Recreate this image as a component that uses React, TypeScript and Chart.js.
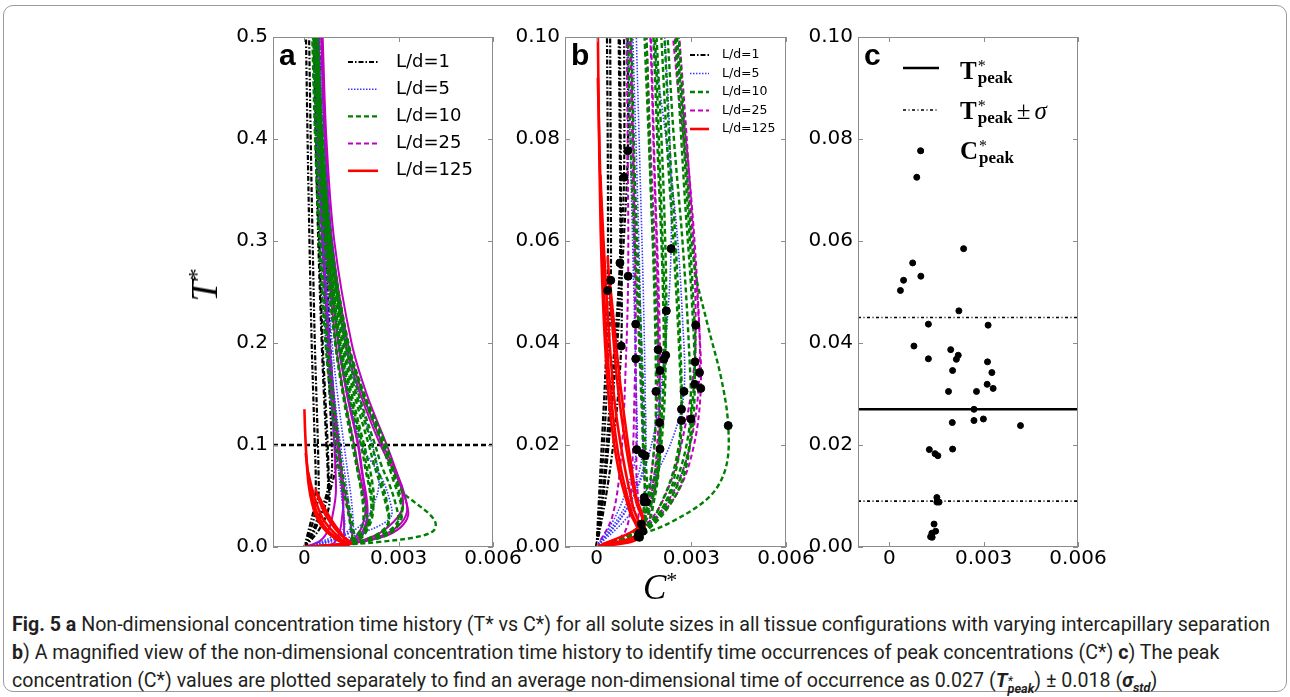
import React, { useEffect, useLayoutEffect, useRef } from 'react';
import { Chart, registerables } from 'chart.js';
Chart.register(...registerables);

// ---------------- data ----------------
const C_UNIT = 1e-3; // C* values in the curve / peak arrays are given in units of 1e-3
const X_MIN = -0.001;
const X_MAX = 0.006;
const X_TICKS = [0, 0.003, 0.006];
const X_TICK_LABELS = ['0', '0.003', '0.006'];
const Y_TICKS_A = [0, 0.1, 0.2, 0.3, 0.4, 0.5];
const Y_TICK_LABELS_A = ['0.0', '0.1', '0.2', '0.3', '0.4', '0.5'];
const Y_TICKS_BC = [0, 0.02, 0.04, 0.06, 0.08, 0.1];
const Y_TICK_LABELS_BC = ['0.00', '0.02', '0.04', '0.06', '0.08', '0.10'];
const LD_LABELS = ['L/d=1', 'L/d=5', 'L/d=10', 'L/d=25', 'L/d=125'];
const T_REF_LINE = 0.1;
const T_PEAK_MEAN = 0.027;
const T_PEAK_STD = 0.018;

// each curve: [C* (x1e-3), T*]
const CURVES_LD1 = [
  [[0, 0], [0.08, 0.01], [0.18, 0.022], [0.29, 0.036], [0.35, 0.0503], [0.36, 0.07], [0.33, 0.1], [0.28, 0.15], [0.23, 0.2], [0.16, 0.3], [0.1, 0.4], [0.05, 0.5]],
  [[0, 0], [0.12, 0.01], [0.25, 0.022], [0.37, 0.037], [0.45, 0.0523], [0.45, 0.07], [0.43, 0.1], [0.38, 0.15], [0.33, 0.2], [0.26, 0.3], [0.2, 0.4], [0.15, 0.5]],
  [[0, 0], [0.2, 0.01], [0.4, 0.022], [0.6, 0.038], [0.74, 0.0557], [0.74, 0.075], [0.7, 0.1], [0.62, 0.15], [0.55, 0.2], [0.44, 0.3], [0.36, 0.4], [0.3, 0.5]],
  [[0, 0], [0.3, 0.01], [0.56, 0.022], [0.78, 0.0394], [0.78, 0.06], [0.74, 0.1], [0.66, 0.15], [0.58, 0.2], [0.47, 0.3], [0.38, 0.4], [0.32, 0.5]],
  [[0, 0], [0.18, 0.01], [0.38, 0.025], [0.6, 0.042], [0.77, 0.058], [0.87, 0.0725], [0.87, 0.1], [0.8, 0.15], [0.72, 0.2], [0.59, 0.3], [0.49, 0.4], [0.41, 0.5]],
  [[0, 0], [0.22, 0.01], [0.45, 0.025], [0.68, 0.042], [0.86, 0.06], [0.99, 0.0777], [0.98, 0.1], [0.91, 0.15], [0.82, 0.2], [0.67, 0.3], [0.55, 0.4], [0.47, 0.5]],
];
const CURVES_LD5 = [
  [[0, 0], [0.8, 0.006], [1.45, 0.014], [1.9, 0.025], [2.18, 0.04], [2.36, 0.0585], [2.32, 0.08], [2.16, 0.1], [1.72, 0.15], [1.32, 0.2], [0.88, 0.3], [0.62, 0.4], [0.46, 0.5]],
  [[0, 0], [1.0, 0.006], [1.85, 0.014], [2.45, 0.022], [2.77, 0.0305], [2.72, 0.045], [2.5, 0.065], [2.1, 0.085], [1.8, 0.1], [1.4, 0.15], [1.1, 0.2], [0.74, 0.3], [0.54, 0.4], [0.42, 0.5]],
  [[0, 0], [0.6, 0.006], [1.05, 0.013], [1.27, 0.0191], [1.26, 0.03], [1.2, 0.045], [1.12, 0.065], [1.04, 0.085], [0.98, 0.1], [0.82, 0.15], [0.68, 0.2], [0.5, 0.3], [0.38, 0.4], [0.3, 0.5]],
  [[0, 0], [0.72, 0.006], [1.2, 0.012], [1.45, 0.0183], [1.45, 0.03], [1.38, 0.05], [1.27, 0.075], [1.15, 0.1], [0.95, 0.15], [0.8, 0.2], [0.58, 0.3], [0.44, 0.4], [0.35, 0.5]],
  [[0, 0], [0.82, 0.006], [1.3, 0.012], [1.54, 0.0179], [1.54, 0.03], [1.48, 0.05], [1.37, 0.075], [1.26, 0.1], [1.05, 0.15], [0.88, 0.2], [0.64, 0.3], [0.49, 0.4], [0.39, 0.5]],
];
const CURVES_LD10 = [
  [[0, 0], [1.2, 0.003], [1.7, 0.01], [2.0, 0.022], [2.15, 0.035], [2.21, 0.0463], [2.15, 0.065], [2.02, 0.085], [1.9, 0.1], [1.5, 0.15], [1.15, 0.2], [0.75, 0.3], [0.52, 0.4], [0.38, 0.5]],
  [[0, 0], [1.3, 0.003], [1.8, 0.01], [2.08, 0.022], [2.19, 0.0376], [2.12, 0.055], [2.0, 0.075], [1.85, 0.1], [1.45, 0.15], [1.12, 0.2], [0.72, 0.3], [0.5, 0.4], [0.36, 0.5]],
  [[0, 0], [1.35, 0.004], [1.85, 0.013], [2.05, 0.025], [2.13, 0.0368], [2.08, 0.055], [1.95, 0.075], [1.8, 0.1], [1.4, 0.15], [1.08, 0.2], [0.7, 0.3], [0.48, 0.4], [0.35, 0.5]],
  [[0, 0], [1.45, 0.003], [2.3, 0.01], [2.85, 0.02], [3.12, 0.0363], [3.05, 0.05], [2.85, 0.07], [2.55, 0.1], [1.9, 0.15], [1.4, 0.2], [0.85, 0.3], [0.58, 0.4], [0.42, 0.5]],
  [[0, 0], [1.5, 0.003], [2.4, 0.01], [2.95, 0.02], [3.11, 0.0319], [3.02, 0.048], [2.8, 0.068], [2.48, 0.1], [1.85, 0.15], [1.35, 0.2], [0.82, 0.3], [0.56, 0.4], [0.4, 0.5]],
  [[0, 0], [1.35, 0.004], [1.7, 0.013], [1.85, 0.022], [1.88, 0.0305], [1.85, 0.045], [1.75, 0.065], [1.62, 0.085], [1.52, 0.1], [1.22, 0.15], [0.98, 0.2], [0.66, 0.3], [0.46, 0.4], [0.34, 0.5]],
  [[0, 0], [1.45, 0.003], [2.15, 0.01], [2.55, 0.018], [2.69, 0.027], [2.65, 0.04], [2.5, 0.06], [2.3, 0.08], [2.15, 0.1], [1.65, 0.15], [1.25, 0.2], [0.8, 0.3], [0.55, 0.4], [0.4, 0.5]],
  [[0, 0], [1.5, 0.003], [2.2, 0.009], [2.58, 0.017], [2.69, 0.0248], [2.62, 0.038], [2.45, 0.058], [2.22, 0.08], [2.05, 0.1], [1.58, 0.15], [1.2, 0.2], [0.76, 0.3], [0.52, 0.4], [0.38, 0.5]],
  [[0, 0], [1.5, 0.003], [2.4, 0.009], [2.85, 0.016], [2.99, 0.0251], [2.92, 0.04], [2.72, 0.06], [2.45, 0.08], [2.25, 0.1], [1.72, 0.15], [1.3, 0.2], [0.8, 0.3], [0.55, 0.4], [0.4, 0.5]],
  [[0, 0], [1.4, 0.0025], [2.4, 0.005], [3.6, 0.01], [4.1, 0.0157], [4.17, 0.0238], [3.95, 0.033], [3.5, 0.044], [3.1, 0.055], [2.85, 0.075], [2.6, 0.1], [1.9, 0.15], [1.38, 0.2], [0.85, 0.3], [0.58, 0.4], [0.42, 0.5]],
  [[0, 0], [1.45, 0.003], [1.85, 0.01], [2.01, 0.0192], [1.98, 0.03], [1.88, 0.048], [1.72, 0.07], [1.58, 0.1], [1.25, 0.15], [0.98, 0.2], [0.64, 0.3], [0.45, 0.4], [0.33, 0.5]],
  [[0, 0], [1.3, 0.003], [1.58, 0.0088], [1.55, 0.018], [1.45, 0.035], [1.32, 0.055], [1.2, 0.075], [1.1, 0.1], [0.9, 0.15], [0.74, 0.2], [0.52, 0.3], [0.38, 0.4], [0.28, 0.5]],
  [[0, 0], [1.25, 0.003], [1.51, 0.0088], [1.48, 0.018], [1.38, 0.035], [1.24, 0.055], [1.1, 0.075], [1.0, 0.1], [0.82, 0.15], [0.67, 0.2], [0.47, 0.3], [0.34, 0.4], [0.25, 0.5]],
];
const CURVES_LD25 = [
  [[0, 0], [0.5, 0.006], [0.78, 0.018], [0.92, 0.035], [1.0, 0.0531], [0.99, 0.075], [0.95, 0.1], [0.85, 0.15], [0.75, 0.2], [0.6, 0.3], [0.5, 0.4], [0.43, 0.5]],
  [[0, 0], [0.9, 0.003], [1.12, 0.015], [1.2, 0.03], [1.24, 0.0437], [1.2, 0.065], [1.14, 0.085], [1.08, 0.1], [0.93, 0.15], [0.8, 0.2], [0.6, 0.3], [0.46, 0.4], [0.37, 0.5]],
  [[0, 0], [1.2, 0.003], [1.26, 0.015], [1.24, 0.0369], [1.2, 0.055], [1.13, 0.08], [1.05, 0.1], [0.9, 0.15], [0.76, 0.2], [0.56, 0.3], [0.43, 0.4], [0.34, 0.5]],
  [[0, 0], [1.4, 0.004], [1.75, 0.015], [1.9, 0.027], [1.95, 0.0387], [1.92, 0.055], [1.82, 0.075], [1.7, 0.1], [1.35, 0.15], [1.08, 0.2], [0.73, 0.3], [0.55, 0.4], [0.45, 0.5]],
  [[0, 0], [1.45, 0.004], [1.8, 0.013], [1.96, 0.024], [2.01, 0.0346], [1.97, 0.05], [1.86, 0.07], [1.72, 0.1], [1.36, 0.15], [1.08, 0.2], [0.72, 0.3], [0.54, 0.4], [0.44, 0.5]],
  [[0, 0], [1.45, 0.003], [1.85, 0.012], [2.0, 0.0244], [1.96, 0.04], [1.84, 0.06], [1.7, 0.08], [1.58, 0.1], [1.25, 0.15], [1.0, 0.2], [0.68, 0.3], [0.5, 0.4], [0.4, 0.5]],
  [[0, 0], [1.5, 0.004], [2.3, 0.012], [2.85, 0.025], [3.1, 0.036], [3.14, 0.0435], [3.08, 0.058], [2.88, 0.078], [2.62, 0.1], [1.98, 0.15], [1.5, 0.2], [0.95, 0.3], [0.7, 0.4], [0.58, 0.5]],
  [[0, 0], [1.55, 0.004], [2.45, 0.011], [3.0, 0.021], [3.26, 0.0342], [3.2, 0.05], [2.95, 0.072], [2.5, 0.1], [1.85, 0.15], [1.38, 0.2], [0.88, 0.3], [0.66, 0.4], [0.55, 0.5]],
  [[0, 0], [1.55, 0.004], [2.5, 0.01], [3.05, 0.019], [3.3, 0.0311], [3.22, 0.046], [2.95, 0.068], [2.42, 0.1], [1.78, 0.15], [1.3, 0.2], [0.84, 0.3], [0.64, 0.4], [0.53, 0.5]],
  [[0, 0], [1.3, 0.003], [1.51, 0.0097], [1.48, 0.02], [1.4, 0.035], [1.28, 0.055], [1.18, 0.075], [1.1, 0.1], [0.92, 0.15], [0.78, 0.2], [0.58, 0.3], [0.45, 0.4], [0.36, 0.5]],
];
const CURVES_LD125 = [
  [[0, 0], [1.31, 0.002], [1.05, 0.007], [0.7, 0.015], [0.42, 0.027], [0.25, 0.042], [0.13, 0.062], [0.06, 0.09], [0.02, 0.115], [0.0, 0.135]],
  [[0, 0], [1.36, 0.0019], [1.1, 0.007], [0.75, 0.016], [0.5, 0.027], [0.3, 0.042], [0.15, 0.065], [0.04, 0.092]],
  [[0, 0], [1.35, 0.0027], [1.15, 0.008], [0.85, 0.017], [0.58, 0.028], [0.38, 0.043], [0.22, 0.06], [0.12, 0.073]],
  [[0, 0], [1.47, 0.0031], [1.25, 0.009], [0.95, 0.019], [0.68, 0.031], [0.48, 0.045], [0.35, 0.057]],
  [[0, 0], [1.42, 0.0045], [1.25, 0.01], [1.0, 0.02], [0.75, 0.032], [0.55, 0.044], [0.42, 0.052]],
];
const CURVE_GROUPS = [CURVES_LD1, CURVES_LD5, CURVES_LD10, CURVES_LD25, CURVES_LD125];

// peak concentrations (C* x1e-3) and their times T*
const PEAK_C = [0.35, 0.45, 0.74, 0.78, 0.87, 0.99, 2.36, 2.77, 1.27, 1.45, 1.54,
  2.21, 2.19, 2.13, 3.12, 3.11, 1.88, 2.69, 2.69, 2.99, 4.17, 2.01, 1.58, 1.51,
  1.0, 1.24, 1.24, 1.95, 2.01, 2.0, 3.14, 3.26, 3.3, 1.51,
  1.31, 1.36, 1.35, 1.47, 1.42];
const PEAK_T = [0.0503, 0.0523, 0.0557, 0.0394, 0.0725, 0.0777, 0.0585, 0.0305, 0.0191, 0.0183, 0.0179,
  0.0463, 0.0376, 0.0368, 0.0363, 0.0319, 0.0305, 0.027, 0.0248, 0.0251, 0.0238, 0.0192, 0.0088, 0.0088,
  0.0531, 0.0437, 0.0369, 0.0387, 0.0346, 0.0244, 0.0435, 0.0342, 0.0311, 0.0097,
  0.002, 0.0019, 0.0027, 0.0031, 0.0045];

// ---------------- styles ----------------
const GROUP_COLORS = ['#000000', '#3a3aff', '#008000', '#bf00bf', '#ff0000'];
const GROUP_WIDTHS = [2.2, 1.6, 2.4, 2.0, 2.6];
const GROUP_DASHES = [[5, 2, 1.5, 2], [1.5, 1.5], [5, 3], [5, 3], []];
const GROUP_DASHES_A = [[5, 2, 1.5, 2], [1.5, 1.5], [5, 3], [], []];
const DRAW_ORDER = [4, 2, 1, 3, 0]; // first = on top
const TICK_FONT = { family: '"DejaVu Sans", sans-serif', size: 20 };
const FRAME_COLOR = '#8c8c8c';

const panelDecor = {
  id: 'panelDecor',
  afterDatasetsDraw(chart: any, _a: any, opts: any) {
    const { ctx, chartArea: a, scales } = chart;
    ctx.save();
    ctx.strokeStyle = FRAME_COLOR;
    ctx.lineWidth = 1;
    ctx.setLineDash([]);
    ctx.strokeRect(a.left + 0.5, a.top + 0.5, a.right - a.left - 1, a.bottom - a.top - 1);
    ctx.beginPath();
    for (const v of opts.xTicks) {
      const px = Math.round(scales.x.getPixelForValue(v)) + 0.5;
      ctx.moveTo(px, a.bottom); ctx.lineTo(px, a.bottom - 5);
      ctx.moveTo(px, a.top); ctx.lineTo(px, a.top + 5);
    }
    for (const v of opts.yTicks) {
      const py = Math.round(scales.y.getPixelForValue(v)) + 0.5;
      ctx.moveTo(a.left, py); ctx.lineTo(a.left + 5, py);
      ctx.moveTo(a.right, py); ctx.lineTo(a.right - 5, py);
    }
    ctx.stroke();
    ctx.fillStyle = '#000';
    ctx.font = 'bold 30px "Liberation Sans", Arial, sans-serif';
    ctx.textBaseline = 'alphabetic';
    ctx.textAlign = 'left';
    ctx.fillText(opts.letter, a.left + 6, a.top + 28);
    const lg = opts.legend;
    if (lg && lg.kind === 'ld') {
      ctx.font = `${lg.fontSize}px "DejaVu Sans", sans-serif`;
      ctx.textBaseline = 'middle';
      LD_LABELS.forEach((lab, i) => {
        const y = a.top + lg.y0 + i * lg.dy;
        ctx.beginPath();
        ctx.strokeStyle = GROUP_COLORS[i];
        ctx.lineWidth = GROUP_WIDTHS[i];
        ctx.setLineDash(GROUP_DASHES[i]);
        ctx.moveTo(a.left + lg.x0, y); ctx.lineTo(a.left + lg.x1, y);
        ctx.stroke();
        ctx.setLineDash([]);
        ctx.fillStyle = '#000';
        ctx.fillText(lab, a.left + lg.tx, y);
      });
    }
    if (lg && lg.kind === 'peak') {
      ctx.strokeStyle = '#000';
      ctx.beginPath(); ctx.lineWidth = 2.6; ctx.setLineDash([]);
      ctx.moveTo(a.left + 45, a.top + 31); ctx.lineTo(a.left + 81, a.top + 31); ctx.stroke();
      ctx.beginPath(); ctx.lineWidth = 1.6; ctx.setLineDash([3, 2.5, 1, 2.5]);
      ctx.moveTo(a.left + 45, a.top + 73); ctx.lineTo(a.left + 81, a.top + 73); ctx.stroke();
      ctx.setLineDash([]);
      ctx.beginPath(); ctx.fillStyle = '#000';
      ctx.arc(a.left + 63, a.top + 114, 3, 0, Math.PI * 2); ctx.fill();
    }
    ctx.restore();
  },
};

function curveDatasets(dashes: number[][]) {
  const out: any[] = [];
  for (const g of DRAW_ORDER) {
    for (const curve of CURVE_GROUPS[g]) {
      out.push({
        data: curve.map(([c, t]) => ({ x: c * C_UNIT, y: t })),
        showLine: true, pointRadius: 0, fill: false, clip: 0,
        borderColor: GROUP_COLORS[g], borderWidth: GROUP_WIDTHS[g], borderDash: dashes[g], tension: 0.35,
      });
    }
  }
  return out;
}

function peakDataset(radius: number) {
  return {
    data: PEAK_C.map((c, i) => ({ x: c * C_UNIT, y: PEAK_T[i] })),
    showLine: false, pointRadius: radius, pointBackgroundColor: '#000', pointBorderColor: '#000', pointBorderWidth: 1, clip: 0,
  };
}

function hLine(y: number, width: number, dash: number[]) {
  return {
    data: [{ x: X_MIN, y }, { x: X_MAX, y }],
    showLine: true, pointRadius: 0, borderColor: '#000', borderWidth: width, borderDash: dash, clip: 0, tension: 0,
  };
}

function makeOptions(yMax: number, yTicks: number[], yLabels: string[], decor: any) {
  return {
    responsive: false, animation: false, events: [],
    layout: { padding: { top: 14, right: 36, bottom: 0, left: 0 } },
    elements: { line: { capBezierPoints: false } },
    plugins: { legend: { display: false }, tooltip: { enabled: false }, panelDecor: decor },
    scales: {
      x: {
        type: 'linear', min: X_MIN, max: X_MAX,
        grid: { display: false, drawTicks: false }, border: { display: false },
        afterBuildTicks: (s: any) => { s.ticks = X_TICKS.map((v) => ({ value: v })); },
        afterFit: (s: any) => { s.height = 40; },
        ticks: { padding: 0, color: '#000', font: TICK_FONT, maxRotation: 0, autoSkip: false, callback: (_v: any, i: number) => X_TICK_LABELS[i] },
      },
      y: {
        type: 'linear', min: 0, max: yMax,
        grid: { display: false, drawTicks: false }, border: { display: false },
        afterBuildTicks: (s: any) => { s.ticks = yTicks.map((v) => ({ value: v })); },
        afterFit: (s: any) => { s.width = 60; },
        ticks: { padding: 5, color: '#000', font: TICK_FONT, autoSkip: false, callback: (_v: any, i: number) => yLabels[i] },
      },
    },
  };
}

const CANVAS_H = 567;
const CANVAS_TOP = 20;

function PeakLabel({ base, left, top, tail }: { base: string; left: number; top: number; tail?: boolean }) {
  return (
    <div style={{ position: 'absolute', left, top, fontFamily: '"Liberation Serif", "DejaVu Serif", serif', fontWeight: 700, fontSize: 25, lineHeight: '25px', whiteSpace: 'nowrap', color: '#000' }}>
      <span>{base}</span>
      <span style={{ display: 'inline-block', verticalAlign: 'top', marginLeft: 1, lineHeight: 1 }}>
        <span style={{ display: 'block', fontSize: 16, fontWeight: 400, height: 11 }}>*</span>
        <span style={{ display: 'block', fontSize: 17 }}>peak</span>
      </span>
      {tail ? (
        <>
          <span style={{ fontWeight: 400, marginLeft: 4 }}>±</span>
          <span style={{ fontWeight: 400, fontStyle: 'italic', marginLeft: 4 }}>σ</span>
        </>
      ) : null}
    </div>
  );
}

const CAPTION_LINE1_WIDTH = 1258;

export default function App() {
  const refA = useRef<HTMLCanvasElement>(null);
  const refB = useRef<HTMLCanvasElement>(null);
  const refC = useRef<HTMLCanvasElement>(null);
  const capRefs = [useRef<HTMLSpanElement>(null), useRef<HTMLSpanElement>(null), useRef<HTMLSpanElement>(null)];

  useEffect(() => {
    const charts: Chart[] = [];
    charts.push(new Chart(refA.current as HTMLCanvasElement, {
      type: 'scatter',
      data: { datasets: [...curveDatasets(GROUP_DASHES_A), hLine(T_REF_LINE, 2.6, [5, 3])] },
      options: makeOptions(0.5, Y_TICKS_A, Y_TICK_LABELS_A, {
        letter: 'a', xTicks: X_TICKS, yTicks: Y_TICKS_A,
        legend: { kind: 'ld', fontSize: 18, x0: 75, x1: 105, tx: 123, y0: 25, dy: 27.2 },
      }) as any,
      plugins: [panelDecor],
    } as any));
    charts.push(new Chart(refB.current as HTMLCanvasElement, {
      type: 'scatter',
      data: { datasets: [peakDataset(4), ...curveDatasets(GROUP_DASHES)] },
      options: makeOptions(0.1, Y_TICKS_BC, Y_TICK_LABELS_BC, {
        letter: 'b', xTicks: X_TICKS, yTicks: Y_TICKS_BC,
        legend: { kind: 'ld', fontSize: 12.5, x0: 125, x1: 144, tx: 157, y0: 18, dy: 18.5 },
      }) as any,
      plugins: [panelDecor],
    } as any));
    charts.push(new Chart(refC.current as HTMLCanvasElement, {
      type: 'scatter',
      data: {
        datasets: [
          peakDataset(3),
          hLine(T_PEAK_MEAN, 2.6, []),
          hLine(T_PEAK_MEAN + T_PEAK_STD, 1.6, [3, 2.5, 1, 2.5]),
          hLine(T_PEAK_MEAN - T_PEAK_STD, 1.6, [3, 2.5, 1, 2.5]),
        ],
      },
      options: makeOptions(0.1, Y_TICKS_BC, Y_TICK_LABELS_BC, {
        letter: 'c', xTicks: X_TICKS, yTicks: Y_TICKS_BC, legend: { kind: 'peak' },
      }) as any,
      plugins: [panelDecor],
    } as any));
    return () => charts.forEach((c) => c.destroy());
  }, []);

  useLayoutEffect(() => {
    const fit = () => {
      const els = capRefs.map((r) => r.current).filter(Boolean) as HTMLSpanElement[];
      els.forEach((el) => { el.style.transform = 'none'; });
      const w = els[0] ? els[0].getBoundingClientRect().width : 0;
      if (w > 0) {
        const s = CAPTION_LINE1_WIDTH / w;
        els.forEach((el) => { el.style.transform = `scaleX(${s})`; });
      }
    };
    fit();
    if ((document as any).fonts && (document as any).fonts.ready) (document as any).fonts.ready.then(fit);
  }, []);

  const capLine = (i: number, top: number, content: React.ReactNode) => (
    <div style={{ position: 'absolute', left: 12, top, whiteSpace: 'nowrap' }}>
      <span ref={capRefs[i]} style={{ display: 'inline-block', transformOrigin: '0 0' }}>{content}</span>
    </div>
  );

  return (
    <div style={{ position: 'absolute', left: 0, top: 0, width: 1290, height: 697, background: '#fff', overflow: 'hidden' }}>
      <div style={{ position: 'absolute', left: 3, top: 5, width: 1282, height: 685, border: '1px solid #9a9a9a', borderRadius: 10 }} />
      <canvas ref={refA} width={316} height={CANVAS_H} style={{ position: 'absolute', left: 213, top: CANVAS_TOP }} />
      <canvas ref={refB} width={317} height={CANVAS_H} style={{ position: 'absolute', left: 505, top: CANVAS_TOP }} />
      <canvas ref={refC} width={316} height={CANVAS_H} style={{ position: 'absolute', left: 798, top: CANVAS_TOP }} />

      <div style={{ position: 'absolute', left: 200, top: 285, transform: 'translate(-50%, -50%) rotate(-90deg)', fontFamily: '"Liberation Serif", serif', fontStyle: 'italic', fontSize: 38, lineHeight: '42px', whiteSpace: 'nowrap' }}>
        T<span style={{ fontStyle: 'normal', fontSize: 24, verticalAlign: '13px' }}>*</span>
      </div>
      <div style={{ position: 'absolute', left: 643, top: 560, fontFamily: '"Liberation Serif", serif', fontStyle: 'italic', fontSize: 35, lineHeight: '40px', whiteSpace: 'nowrap' }}>
        C<span style={{ fontStyle: 'normal', fontSize: 22, verticalAlign: '12px' }}>*</span>
      </div>

      <PeakLabel base="T" left={960} top={58} />
      <PeakLabel base="T" left={960} top={98} tail />
      <PeakLabel base="C" left={960} top={138} />

      <div style={{ fontFamily: 'Roboto, "Open Sans", sans-serif', fontSize: 20, lineHeight: '22px', color: '#231f20' }}>
        {capLine(0, 613, <><b>Fig. 5 a</b> Non-dimensional concentration time history (T* vs C*) for all solute sizes in all tissue configurations with varying intercapillary separation</>)}
        {capLine(1, 641, <><b>b</b>) A magnified view of the non-dimensional concentration time history to identify time occurrences of peak concentrations (C*) <b>c</b>) The peak</>)}
        {capLine(2, 669, <>concentration (C*) values are plotted separately to find an average non-dimensional time of occurrence as 0.027 (<b><i>T</i></b><span style={{ display: 'inline-block', verticalAlign: '-6px', lineHeight: 1, fontSize: 13, fontWeight: 700, fontStyle: 'italic' }}><span style={{ display: 'block', height: 8, fontWeight: 400 }}>*</span><span style={{ display: 'block' }}>peak</span></span>) ± 0.018 (<b><i>σ</i></b><sub style={{ fontSize: 13, fontWeight: 700, fontStyle: 'italic' }}>std</sub>)</>)}
      </div>
    </div>
  );
}
